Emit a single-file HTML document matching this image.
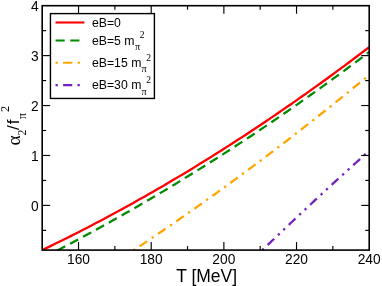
<!DOCTYPE html>
<html><head><meta charset="utf-8"><style>
html,body{margin:0;padding:0;background:#fff;}
svg{display:block;font-family:"Liberation Sans",sans-serif;}
text{filter:grayscale(1);}
</style></head><body>
<svg width="382" height="286" viewBox="0 0 382 286">
<rect width="382" height="286" fill="#fff"/>
<defs><clipPath id="cp"><rect x="42.2" y="5.7" width="327.0" height="244.4"/></clipPath></defs>
<g clip-path="url(#cp)" fill="none" stroke-width="2.3">
<path d="M42.20,250.08 L46.34,248.09 L50.48,246.09 L54.62,244.07 L58.76,242.04 L62.90,240.00 L67.04,237.93 L71.17,235.86 L75.31,233.77 L79.45,231.66 L83.59,229.54 L87.73,227.40 L91.87,225.25 L96.01,223.09 L100.15,220.91 L104.29,218.71 L108.43,216.50 L112.57,214.27 L116.71,212.03 L120.85,209.78 L124.98,207.51 L129.12,205.22 L133.26,202.92 L137.40,200.61 L141.54,198.28 L145.68,195.93 L149.82,193.57 L153.96,191.20 L158.10,188.81 L162.24,186.40 L166.38,183.98 L170.52,181.55 L174.66,179.10 L178.79,176.63 L182.93,174.15 L187.07,171.66 L191.21,169.15 L195.35,166.63 L199.49,164.09 L203.63,161.53 L207.77,158.96 L211.91,156.38 L216.05,153.78 L220.19,151.17 L224.33,148.54 L228.47,145.90 L232.61,143.24 L236.74,140.56 L240.88,137.87 L245.02,135.17 L249.16,132.45 L253.30,129.72 L257.44,126.97 L261.58,124.21 L265.72,121.43 L269.86,118.64 L274.00,115.83 L278.14,113.01 L282.28,110.17 L286.42,107.32 L290.55,104.45 L294.69,101.57 L298.83,98.67 L302.97,95.76 L307.11,92.83 L311.25,89.89 L315.39,86.93 L319.53,83.96 L323.67,80.97 L327.81,77.97 L331.95,74.95 L336.09,71.92 L340.23,68.87 L344.36,65.81 L348.50,62.74 L352.64,59.65 L356.78,56.54 L360.92,53.42 L365.06,50.28 L369.20,47.13" stroke="#ff0000"/>
<path d="M42.20,258.17 L46.34,256.06 L50.48,253.94 L54.62,251.81 L58.76,249.66 L62.90,247.50 L67.04,245.33 L71.17,243.15 L75.31,240.95 L79.45,238.74 L83.59,236.52 L87.73,234.28 L91.87,232.04 L96.01,229.78 L100.15,227.50 L104.29,225.22 L108.43,222.92 L112.57,220.61 L116.71,218.28 L120.85,215.95 L124.98,213.60 L129.12,211.23 L133.26,208.86 L137.40,206.47 L141.54,204.07 L145.68,201.66 L149.82,199.23 L153.96,196.79 L158.10,194.34 L162.24,191.87 L166.38,189.40 L170.52,186.91 L174.66,184.40 L178.79,181.89 L182.93,179.36 L187.07,176.82 L191.21,174.27 L195.35,171.70 L199.49,169.12 L203.63,166.53 L207.77,163.92 L211.91,161.31 L216.05,158.68 L220.19,156.03 L224.33,153.38 L228.47,150.71 L232.61,148.03 L236.74,145.33 L240.88,142.63 L245.02,139.91 L249.16,137.17 L253.30,134.43 L257.44,131.67 L261.58,128.90 L265.72,126.11 L269.86,123.31 L274.00,120.50 L278.14,117.67 L282.28,114.83 L286.42,111.97 L290.55,109.11 L294.69,106.22 L298.83,103.33 L302.97,100.42 L307.11,97.50 L311.25,94.56 L315.39,91.61 L319.53,88.65 L323.67,85.67 L327.81,82.68 L331.95,79.68 L336.09,76.66 L340.23,73.63 L344.36,70.58 L348.50,67.52 L352.64,64.45 L356.78,61.36 L360.92,58.26 L365.06,55.15 L369.20,52.02" stroke="#008b00" stroke-dasharray="9.19 5.51" stroke-dashoffset="-2.0"/>
<path d="M133.50,250.29 L136.48,248.31 L139.47,246.33 L142.45,244.34 L145.43,242.35 L148.42,240.35 L151.40,238.34 L154.38,236.32 L157.37,234.30 L160.35,232.28 L163.34,230.24 L166.32,228.21 L169.30,226.16 L172.29,224.11 L175.27,222.05 L178.25,219.99 L181.24,217.92 L184.22,215.84 L187.20,213.76 L190.19,211.67 L193.17,209.58 L196.15,207.48 L199.14,205.37 L202.12,203.26 L205.11,201.14 L208.09,199.01 L211.07,196.88 L214.06,194.74 L217.04,192.60 L220.02,190.44 L223.01,188.29 L225.99,186.12 L228.97,183.95 L231.96,181.78 L234.94,179.60 L237.92,177.41 L240.91,175.22 L243.89,173.01 L246.87,170.81 L249.86,168.59 L252.84,166.38 L255.83,164.15 L258.81,161.92 L261.79,159.68 L264.78,157.44 L267.76,155.19 L270.74,152.93 L273.73,150.67 L276.71,148.40 L279.69,146.12 L282.68,143.84 L285.66,141.55 L288.64,139.26 L291.63,136.96 L294.61,134.65 L297.59,132.34 L300.58,130.02 L303.56,127.70 L306.55,125.37 L309.53,123.03 L312.51,120.68 L315.50,118.33 L318.48,115.98 L321.46,113.62 L324.45,111.25 L327.43,108.87 L330.41,106.49 L333.40,104.10 L336.38,101.71 L339.36,99.31 L342.35,96.91 L345.33,94.49 L348.32,92.08 L351.30,89.65 L354.28,87.22 L357.27,84.78 L360.25,82.34 L363.23,79.89 L366.22,77.43 L369.20,74.97" stroke="#ffa500" stroke-dasharray="2.30 5.30 9.21 5.30" stroke-dashoffset="0.23"/>
<path d="M262.30,250.12 L263.65,248.82 L265.01,247.52 L266.36,246.22 L267.71,244.92 L269.07,243.63 L270.42,242.33 L271.77,241.04 L273.13,239.74 L274.48,238.45 L275.83,237.16 L277.18,235.87 L278.54,234.58 L279.89,233.29 L281.24,232.01 L282.60,230.72 L283.95,229.44 L285.30,228.15 L286.66,226.87 L288.01,225.59 L289.36,224.31 L290.72,223.03 L292.07,221.75 L293.42,220.48 L294.78,219.20 L296.13,217.93 L297.48,216.65 L298.84,215.38 L300.19,214.11 L301.54,212.84 L302.89,211.57 L304.25,210.30 L305.60,209.04 L306.95,207.77 L308.31,206.51 L309.66,205.25 L311.01,203.98 L312.37,202.72 L313.72,201.46 L315.07,200.21 L316.43,198.95 L317.78,197.69 L319.13,196.44 L320.49,195.18 L321.84,193.93 L323.19,192.68 L324.55,191.43 L325.90,190.18 L327.25,188.93 L328.61,187.68 L329.96,186.44 L331.31,185.19 L332.66,183.95 L334.02,182.70 L335.37,181.46 L336.72,180.22 L338.08,178.98 L339.43,177.75 L340.78,176.51 L342.14,175.27 L343.49,174.04 L344.84,172.80 L346.20,171.57 L347.55,170.34 L348.90,169.11 L350.26,167.88 L351.61,166.65 L352.96,165.43 L354.32,164.20 L355.67,162.98 L357.02,161.75 L358.37,160.53 L359.73,159.31 L361.08,158.09 L362.43,156.87 L363.79,155.65 L365.14,154.44 L366.49,153.22 L367.85,152.01 L369.20,150.79" stroke="#7221bc" stroke-dasharray="2.30 5.26 9.15 5.26 2.30 5.02" stroke-dashoffset="0.23"/>
</g>
<g stroke="#000" stroke-width="1.15">
<line x1="78.53" y1="250.1" x2="78.53" y2="242.1"/>
<line x1="78.53" y1="5.7" x2="78.53" y2="13.7"/>
<line x1="114.87" y1="250.1" x2="114.87" y2="246.1"/>
<line x1="114.87" y1="5.7" x2="114.87" y2="9.7"/>
<line x1="151.20" y1="250.1" x2="151.20" y2="242.1"/>
<line x1="151.20" y1="5.7" x2="151.20" y2="13.7"/>
<line x1="187.53" y1="250.1" x2="187.53" y2="246.1"/>
<line x1="187.53" y1="5.7" x2="187.53" y2="9.7"/>
<line x1="223.87" y1="250.1" x2="223.87" y2="242.1"/>
<line x1="223.87" y1="5.7" x2="223.87" y2="13.7"/>
<line x1="260.20" y1="250.1" x2="260.20" y2="246.1"/>
<line x1="260.20" y1="5.7" x2="260.20" y2="9.7"/>
<line x1="296.53" y1="250.1" x2="296.53" y2="242.1"/>
<line x1="296.53" y1="5.7" x2="296.53" y2="13.7"/>
<line x1="332.87" y1="250.1" x2="332.87" y2="246.1"/>
<line x1="332.87" y1="5.7" x2="332.87" y2="9.7"/>
<line x1="42.2" y1="230.37" x2="46.2" y2="230.37"/>
<line x1="369.2" y1="230.37" x2="365.2" y2="230.37"/>
<line x1="42.2" y1="205.40" x2="50.2" y2="205.40"/>
<line x1="369.2" y1="205.40" x2="361.2" y2="205.40"/>
<line x1="42.2" y1="180.44" x2="46.2" y2="180.44"/>
<line x1="369.2" y1="180.44" x2="365.2" y2="180.44"/>
<line x1="42.2" y1="155.47" x2="50.2" y2="155.47"/>
<line x1="369.2" y1="155.47" x2="361.2" y2="155.47"/>
<line x1="42.2" y1="130.50" x2="46.2" y2="130.50"/>
<line x1="369.2" y1="130.50" x2="365.2" y2="130.50"/>
<line x1="42.2" y1="105.54" x2="50.2" y2="105.54"/>
<line x1="369.2" y1="105.54" x2="361.2" y2="105.54"/>
<line x1="42.2" y1="80.58" x2="46.2" y2="80.58"/>
<line x1="369.2" y1="80.58" x2="365.2" y2="80.58"/>
<line x1="42.2" y1="55.61" x2="50.2" y2="55.61"/>
<line x1="369.2" y1="55.61" x2="361.2" y2="55.61"/>
<line x1="42.2" y1="30.65" x2="46.2" y2="30.65"/>
<line x1="369.2" y1="30.65" x2="365.2" y2="30.65"/>
</g>
<rect x="42.2" y="5.7" width="327.0" height="244.4" fill="none" stroke="#000" stroke-width="1.6"/>
<rect x="50.45" y="13.6" width="103.95" height="84.85" fill="#fff" stroke="#000" stroke-width="1.4"/>
<g fill="#000">
<line x1="55.55" y1="22.5" x2="84.45" y2="22.5" stroke="#ff0000" stroke-width="2.1"/><text transform="translate(92.0,27.3) scale(1,1.05)" font-size="12.25">eB=0</text>
<line x1="55.55" y1="40.5" x2="84.45" y2="40.5" stroke="#008b00" stroke-width="2.1" stroke-dasharray="9.19 5.51"/><text transform="translate(92.0,44.6) scale(1,1.05)" font-size="12.25">eB=5 m</text><text transform="translate(134.9,49.7) scale(1.08,1.05)" font-size="9.6" font-family="Liberation Serif, serif">π</text><text transform="translate(139.8,38.4) scale(1,1.05)" font-size="9.6" font-family="Liberation Serif, serif">2</text>
<line x1="55.55" y1="62.8" x2="84.45" y2="62.8" stroke="#ffa500" stroke-width="2.1" stroke-dasharray="2.30 5.30 9.21 5.30"/><text transform="translate(92.0,66.8) scale(1,1.05)" font-size="12.25">eB=15 m</text><text transform="translate(141.4,71.89999999999999) scale(1.08,1.05)" font-size="9.6" font-family="Liberation Serif, serif">π</text><text transform="translate(146.3,60.599999999999994) scale(1,1.05)" font-size="9.6" font-family="Liberation Serif, serif">2</text>
<line x1="55.55" y1="85.1" x2="84.45" y2="85.1" stroke="#7221bc" stroke-width="2.1" stroke-dasharray="2.30 5.26 9.15 5.26 2.30 5.02"/><text transform="translate(92.0,89.4) scale(1,1.05)" font-size="12.25">eB=30 m</text><text transform="translate(141.4,94.5) scale(1.08,1.05)" font-size="9.6" font-family="Liberation Serif, serif">π</text><text transform="translate(146.3,83.2) scale(1,1.05)" font-size="9.6" font-family="Liberation Serif, serif">2</text>
</g>
<g font-size="13.8" fill="#000">
<text transform="translate(78.53,264.3) scale(1,1.09)" text-anchor="middle">160</text>
<text transform="translate(151.20,264.3) scale(1,1.09)" text-anchor="middle">180</text>
<text transform="translate(223.87,264.3) scale(1,1.09)" text-anchor="middle">200</text>
<text transform="translate(296.53,264.3) scale(1,1.09)" text-anchor="middle">220</text>
<text transform="translate(369.20,264.3) scale(1,1.09)" text-anchor="middle">240</text>
<text transform="translate(38.7,210.60) scale(1,1.09)" text-anchor="end">0</text>
<text transform="translate(38.7,160.67) scale(1,1.09)" text-anchor="end">1</text>
<text transform="translate(38.7,110.74) scale(1,1.09)" text-anchor="end">2</text>
<text transform="translate(38.7,60.81) scale(1,1.09)" text-anchor="end">3</text>
<text transform="translate(38.7,10.88) scale(1,1.09)" text-anchor="end">4</text>
</g>
<text transform="translate(206.6,281.5) scale(1,1.03)" font-size="17.5" text-anchor="middle" fill="#000">T [MeV]</text>
<g transform="translate(19.4,144.6) rotate(-90)" fill="#000" font-size="17.2">
<text x="-0.9" y="0.6" font-size="19.6" font-family="Liberation Serif, serif">α</text>
<text x="9.2" y="6.4" font-size="11.8" font-family="Liberation Serif, serif">2</text>
<text x="14.5" y="0">/</text>
<text x="20.4" y="0">f</text>
<text x="25.5" y="6.6" font-size="11.8" font-family="Liberation Serif, serif">π</text>
<text x="32.7" y="-10.0" font-size="12.4" font-family="Liberation Serif, serif">2</text>
</g>
</svg>
</body></html>
